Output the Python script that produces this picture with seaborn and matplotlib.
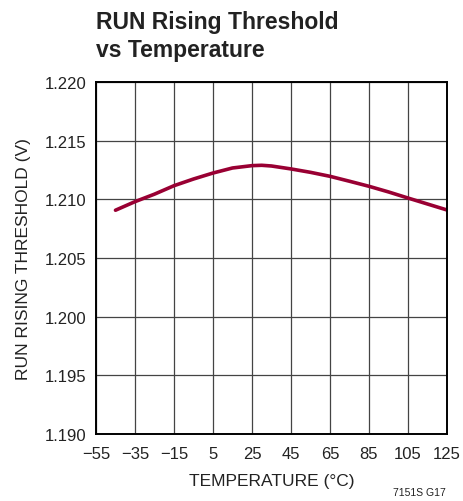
import pandas as pd
import matplotlib.pyplot as plt
import seaborn as sns

# Values
temperature = [-45, -35, -25, -15, -5, 5, 15, 25, 30, 35, 45, 55, 65, 75, 85, 95, 105, 115, 125]
threshold = [1.20907, 1.20980, 1.21044, 1.21116, 1.21173, 1.21224, 1.21267, 1.21287, 1.21290,
             1.21284, 1.21259, 1.21230, 1.21196, 1.21154, 1.21111, 1.21063, 1.21011, 1.20960, 1.20909]

x_ticks = [-55, -35, -15, 5, 25, 45, 65, 85, 105, 125]
x_labels = ["\u221255", "\u221235", "\u221215", "5", "25", "45", "65", "85", "105", "125"]
y_ticks = [1.190, 1.195, 1.200, 1.205, 1.210, 1.215, 1.220]

sns.set_style("white")
plt.rcParams["font.family"] = ["Liberation Sans", "DejaVu Sans"]

data = pd.DataFrame({"temp": temperature, "vth": threshold})

fig = plt.figure(figsize=(4.63, 5.02), dpi=100)
ax = fig.add_axes([0.2073, 0.1335, 0.7581, 0.7012])

sns.lineplot(data=data, x="temp", y="vth", ax=ax, color="#990033", linewidth=2.6)

ax.set_xlim(-55, 125)
ax.set_ylim(1.190, 1.220)
ax.set_xticks(x_ticks)
ax.set_xticklabels(x_labels, fontsize=12)
ax.set_yticks(y_ticks)
ax.set_yticklabels([f"{v:.3f}" for v in y_ticks], fontsize=12)
ax.tick_params(length=0, colors="#222222")
ax.tick_params(axis="x", pad=9)
ax.tick_params(axis="y", pad=7)
ax.grid(True, color="#444444", linewidth=0.9)
ax.set_axisbelow(True)
for s in ax.spines.values():
    s.set_color("black")
    s.set_linewidth(1.4)

ax.set_xlabel("TEMPERATURE (\u00b0C)", fontsize=12.5, color="#222222", labelpad=8)
ax.set_ylabel("RUN RISING THRESHOLD (V)", fontsize=12.5, color="#222222", labelpad=10)

fig.text(0.207, 0.978, "RUN Rising Threshold\nvs Temperature", fontsize=16.5, fontweight="bold",
         va="top", ha="left", color="#222222", linespacing=1.3)
fig.text(0.962, 0.008, "7151S G17", fontsize=7.5, ha="right", va="bottom", color="#222222")

fig.savefig("out.png", dpi=100)
